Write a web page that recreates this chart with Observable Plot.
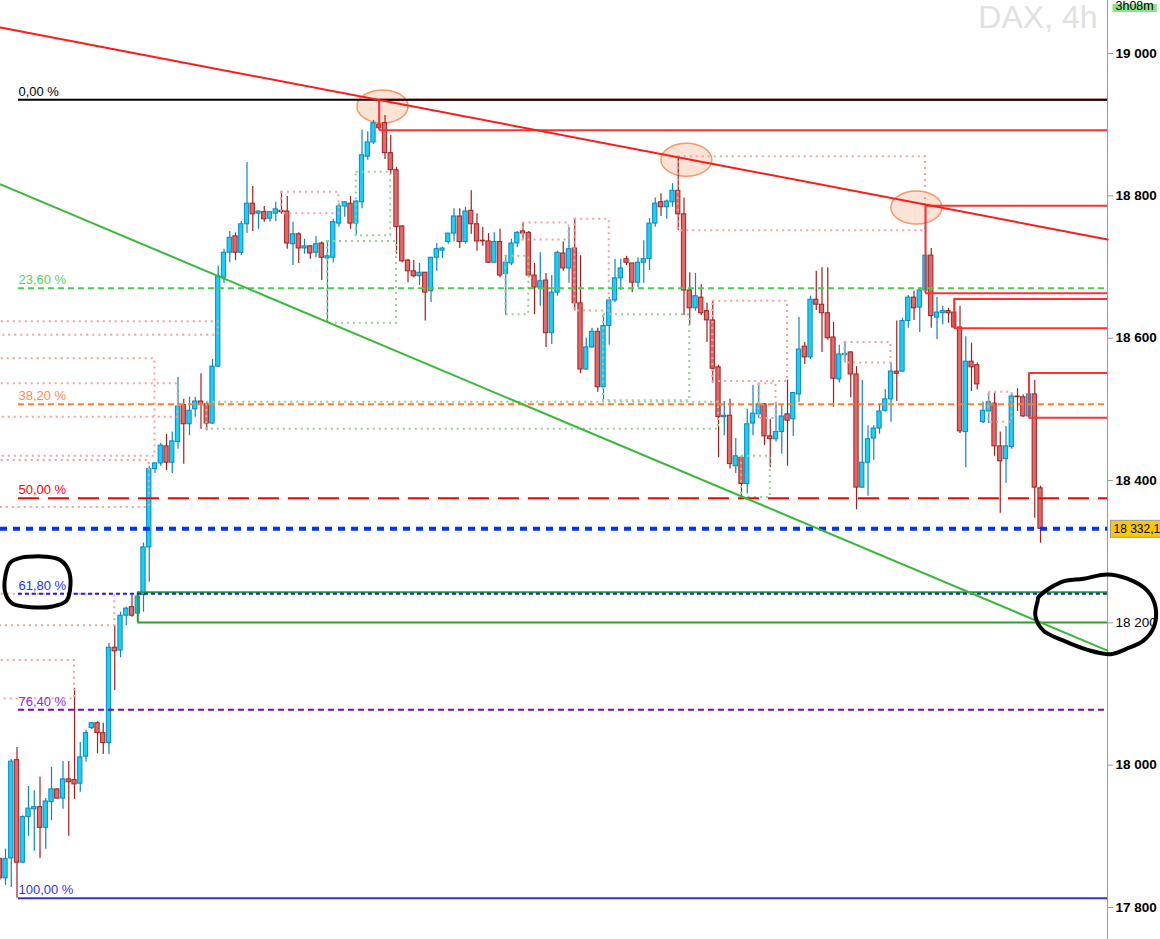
<!DOCTYPE html>
<html><head><meta charset="utf-8">
<script src="https://cdn.jsdelivr.net/npm/d3@7"></script>
<script src="https://cdn.jsdelivr.net/npm/@observablehq/plot@0.6"></script>
<style>
html,body{margin:0;padding:0;background:#fff;overflow:hidden;}
#chart svg{display:block;}
</style>
</head><body>
<div id="chart"></div>
<script>
// ---- candle data (DAX, 4h), index = bar number ----
const candleOpen = [17868,17841,17869,18007,17863,17927,17938,17941,17912,17948,
17966,17953,17980,17979,17974,18012,18052,18059,18045,18031,
18165,18161,18210,18222,18213,18239,18306,18416,18424,18448,
18425,18454,18506,18479,18500,18511,18507,18480,18560,18685,
18720,18743,18720,18760,18789,18775,18777,18768,18775,18779,
18778,18732,18746,18726,18729,18720,18733,18712,18713,18761,
18785,18789,18761,18791,18855,18875,18900,18902,18860,18836,
18757,18709,18694,18687,18692,18666,18713,18723,18735,18747,
18771,18735,18779,18760,18737,18736,18706,18735,18690,18705,
18733,18750,18748,18688,18671,18681,18607,18664,18719,18698,
18726,18649,18556,18587,18609,18531,18617,18653,18684,18711,
18705,18678,18706,18711,18761,18791,18784,18791,18807,18774,
18667,18642,18657,18638,18625,18559,18489,18491,18420,18432,
18395,18480,18493,18507,18462,18458,18468,18493,18486,18521,
18588,18573,18654,18647,18635,18601,18542,18576,18580,18549,
18390,18425,18459,18473,18498,18514,18553,18553,18624,18657,
18643,18667,18716,18629,18635,18638,18636,18615,18468,18567,
18562,18482,18497,18508,18448,18430,18447,18518,18517,18490,
18521,18389];
const candleHigh = [17870,17882,18008,18025,17929,17970,17964,17983,17953,17997,
17967,18005,18005,18108,18032,18049,18060,18061,18059,18171,
18196,18215,18222,18239,18243,18312,18420,18425,18452,18465,
18468,18545,18514,18517,18517,18550,18510,18570,18701,18725,
18750,18748,18764,18847,18813,18779,18785,18778,18791,18805,
18799,18763,18748,18739,18730,18743,18735,18736,18767,18789,
18792,18799,18793,18892,18890,18906,18935,18913,18885,18840,
18758,18711,18709,18705,18692,18713,18733,18728,18747,18782,
18782,18784,18807,18775,18756,18747,18748,18753,18715,18739,
18750,18761,18750,18705,18720,18691,18688,18722,18735,18756,
18767,18716,18600,18614,18614,18632,18657,18711,18711,18715,
18705,18713,18737,18768,18797,18803,18794,18817,18854,18797,
18692,18691,18675,18649,18652,18562,18511,18514,18459,18435,
18500,18534,18536,18508,18486,18510,18506,18541,18523,18629,
18594,18659,18694,18699,18699,18622,18590,18594,18581,18560,
18541,18477,18477,18508,18528,18565,18624,18628,18660,18666,
18671,18786,18726,18657,18645,18642,18655,18645,18602,18593,
18565,18510,18523,18523,18468,18476,18523,18529,18520,18551,
18541,18392];
const candleLow = [17838,17831,17828,17813,17862,17900,17879,17869,17882,17922,
17952,17938,17900,17952,17962,18004,18050,18016,18015,18015,
18105,18151,18196,18208,18201,18215,18257,18410,18420,18414,
18410,18444,18423,18463,18489,18472,18470,18479,18559,18677,
18706,18709,18716,18747,18750,18753,18763,18763,18764,18774,
18725,18702,18705,18718,18711,18713,18681,18621,18706,18756,
18770,18753,18744,18782,18850,18872,18892,18851,18830,18718,
18706,18678,18685,18674,18624,18650,18694,18712,18732,18735,
18726,18732,18746,18722,18729,18705,18706,18685,18632,18702,
18727,18739,18685,18633,18645,18587,18591,18659,18694,18677,
18638,18550,18555,18586,18524,18512,18590,18650,18667,18702,
18664,18671,18677,18695,18756,18771,18767,18784,18751,18632,
18618,18638,18632,18594,18537,18432,18463,18416,18410,18376,
18381,18463,18487,18449,18418,18454,18437,18420,18462,18510,
18563,18570,18639,18580,18597,18503,18537,18565,18516,18359,
18389,18378,18428,18465,18496,18482,18511,18552,18614,18625,
18608,18663,18614,18598,18619,18621,18614,18466,18418,18525,
18527,18480,18480,18434,18354,18396,18444,18497,18489,18488,
18347,18312];
const candleClose = [17841,17868,18005,17863,17927,17939,17941,17912,17949,17966,
17953,17980,17976,17973,18011,18045,18059,18045,18031,18165,
18160,18210,18220,18210,18237,18306,18416,18424,18449,18425,
18455,18504,18479,18498,18511,18506,18480,18560,18687,18720,
18741,18720,18760,18789,18774,18778,18767,18777,18781,18777,
18733,18746,18726,18729,18719,18732,18713,18715,18763,18785,
18791,18761,18792,18857,18875,18902,18895,18860,18836,18756,
18708,18694,18687,18692,18664,18713,18725,18726,18747,18771,
18735,18778,18760,18736,18736,18706,18735,18688,18706,18733,
18748,18747,18688,18671,18680,18607,18664,18720,18698,18725,
18649,18556,18587,18609,18531,18617,18653,18684,18698,18706,
18678,18706,18711,18761,18789,18784,18792,18807,18774,18667,
18642,18659,18635,18625,18557,18489,18491,18423,18434,18395,
18479,18494,18507,18462,18458,18468,18490,18484,18523,18584,
18573,18654,18647,18635,18600,18543,18577,18578,18549,18390,
18425,18458,18473,18497,18514,18553,18550,18624,18657,18642,
18667,18716,18631,18636,18638,18635,18615,18469,18567,18559,
18535,18498,18510,18448,18427,18448,18518,18517,18490,18521,
18390,18332.1];

// ---- Fibonacci retracement ----
const fibLabels = ["0,00 %","23,60 %","38,20 %","50,00 %","61,80 %","76,40 %","100,00 %"];
const fibLevels = [18935,18670,18507,18375,18241,18078,17813];
const fibStartBar = 3.25;

// ---- price scale / last price ----
const priceTicks = [17800,18000,18200,18400,18600,18800,19000];
const lastPrice = 18332.1;
const chartTitle = "DAX, 4h";
const timerText = "3h08m";

// ---- candle zones (from the bar's high to its low, extended right) ----
const resistanceBars = [66,161,166,179];
const resistanceHigh = [18935,18786,18655,18551];
const resistanceLow  = [18892,18663,18614,18488];
const supportBars = [24];
const supportHigh = [18243];
const supportLow  = [18200.5];

// ---- dotted zones (null start = begins before the visible window) ----
const pinkBoxStart  = [null,null,null,null,null,null,49,91,100,118,124,132,147,172];
const pinkBoxEnd    = [38,27,31,26,20,13,59,99,106,161,137,135,155,176];
const pinkBoxTop    = [18623,18571,18536,18428,18240,18147,18805,18762,18767,18855,18652,18536,18594,18524];
const pinkBoxBottom = [18604,18434,18489,18362,18196,18093,18775,18738,18638,18751,18539,18487,18565,18482];
const greenBoxStart  = [57,62,88,105,36,129];
const greenBoxEnd    = [69,68,92,120,125,134];
const greenBoxTop    = [18736,18833,18715,18633,18510,18434];
const greenBoxBottom = [18621,18744,18633,18512,18472,18376];

// ---- trend lines (bar, price) ----
const redTrend   = [[0.13,19036.5],[192.65,18738.7]];
const greenTrend = [[0.13,18816],[192.65,18161]];

// ---- highlighted peaks (bar, price) ----
const peakBars   = [66.65,119.5,159.5];
const peakPrices = [18925,18850,18783];

// ---- hand-drawn loops (bar, price) ----
const leftLoop = [[5.0,18293],[7.96,18293],[10.57,18288],[11.96,18274],[12.3,18253],[11.61,18231],[9.17,18223],[5.35,18222],[2.22,18227],[1.0,18241],[1.0,18267],[1.87,18285],[3.96,18292]];
const rightLoop = [[180.65,18236],[184.5,18257],[188.5,18262],[192.6,18268],[196.1,18262],[199.6,18245],[201.0,18222],[200.7,18194],[198.9,18175],[196.1,18164],[193.2,18156],[189.2,18162],[185.0,18175],[181.5,18189],[180.1,18210],[180.5,18231]];

// ================= drawing =================
const xMin = 0.13, xMax = 192.65;
const FONT = "'Liberation Sans', Arial, sans-serif";
const BLUE_FILL = "#19d0f6", BLUE_EDGE = "#0b86bd", RED_FILL = "#e36868", RED_EDGE = "#a31f1f";

const bars = candleOpen.map((o, i) => ({i, open: o, high: candleHigh[i], low: candleLow[i], close: candleClose[i], up: candleClose[i] >= o}));
const mkBoxes = (s, e, t, b) => s.map((v, k) => ({x1: v == null ? xMin - 3 : v, x2: e[k], y1: t[k], y2: b[k]}));
const pinkBoxes = mkBoxes(pinkBoxStart, pinkBoxEnd, pinkBoxTop, pinkBoxBottom);
const greenBoxes = mkBoxes(greenBoxStart, greenBoxEnd, greenBoxTop, greenBoxBottom);
const resZones = resistanceBars.map((b, k) => ({b, hi: resistanceHigh[k], lo: resistanceLow[k]}));
const supZones = supportBars.map((b, k) => ({b, hi: supportHigh[k], lo: supportLow[k]}));
const fib = fibLevels.map((v, k) => ({level: v, label: fibLabels[k], k}));

const fibStyle = [
  {stroke: "#000000", dash: null, text: "#000000"},
  {stroke: "#4ccb4c", dash: "6,4", text: "#5ad35a"},
  {stroke: "#ff7f3a", dash: "6,4", text: "#ff8a4a"},
  {stroke: "#ff0000", dash: "21,9", text: "#ff0000"},
  {stroke: "#1a1aff", dash: "4,3", text: "#2a2aff"},
  {stroke: "#7f00c8", dash: "6,4", text: "#8a2be2"},
  {stroke: "#3333dd", dash: null, text: "#3333dd"}
];

const fibMarks = fib.map(d => Plot.ruleY([d], {
  y: "level", x1: () => fibStartBar, x2: () => xMax,
  stroke: fibStyle[d.k].stroke, strokeWidth: 2,
  ...(fibStyle[d.k].dash ? {strokeDasharray: fibStyle[d.k].dash} : {})
}));

const zoneMarks = (zones, color) => [
  Plot.ruleX(zones, {x: "b", y1: "lo", y2: "hi", stroke: color, strokeWidth: 2}),
  Plot.ruleY(zones, {y: "hi", x1: "b", x2: () => xMax, stroke: color, strokeWidth: 2}),
  Plot.ruleY(zones, {y: "lo", x1: "b", x2: () => xMax, stroke: color, strokeWidth: 2})
];

const fmtTick = d => `${Math.floor(d / 1000)} ${String(d % 1000).padStart(3, "0")}`;
const fmtPrice = p => `${Math.floor(p / 1000)} ${(p % 1000).toFixed(1).replace(".", ",")}`;

const svg = Plot.plot({
  width: 1160, height: 939,
  marginLeft: 0, marginRight: 53, marginTop: 0, marginBottom: 0,
  style: {fontFamily: FONT, fontSize: "13.5px", background: "#ffffff", overflow: "visible"},
  x: {domain: [xMin, xMax], axis: null},
  y: {domain: [17800, 19000], range: [907, 53], axis: "right", ticks: priceTicks, tickFormat: fmtTick, tickSize: 5, tickPadding: 3, label: null},
  color: {type: "identity"},
  marks: [
    Plot.ruleX([xMax], {stroke: "#9a9a9a", strokeWidth: 1}),
    // candles
    Plot.ruleX(bars, {x: "i", y1: "low", y2: "high", stroke: d => d.up ? BLUE_EDGE : RED_EDGE, strokeWidth: 1.2}),
    Plot.rect(bars, {x1: d => d.i - 0.37, x2: d => d.i + 0.37, y1: "open", y2: "close",
      fill: d => d.up ? BLUE_FILL : RED_FILL, stroke: d => d.up ? BLUE_EDGE : RED_EDGE, strokeWidth: 1}),
    // dotted zones
    Plot.rect(pinkBoxes, {x1: "x1", x2: "x2", y1: "y1", y2: "y2", fill: "none", stroke: "#f5a0a0", strokeWidth: 2, strokeDasharray: "2,4"}),
    Plot.rect(greenBoxes, {x1: "x1", x2: "x2", y1: "y1", y2: "y2", fill: "none", stroke: "#93d293", strokeWidth: 2, strokeDasharray: "2,4"}),
    // candle zones
    ...zoneMarks(resZones, "#ff3030"),
    ...zoneMarks(supZones, "#2e9e2e"),
    // fibonacci
    ...fibMarks,
    // last price line
    Plot.ruleY([lastPrice], {stroke: "#0033ff", strokeWidth: 4, strokeDasharray: "7,6"}),
    // trend lines
    Plot.line(redTrend, {x: d => d[0], y: d => d[1], stroke: "#ff1a1a", strokeWidth: 2}),
    Plot.line(greenTrend, {x: d => d[0], y: d => d[1], stroke: "#38b838", strokeWidth: 2}),
    // fib labels
    Plot.text(fib, {x: () => fibStartBar, y: "level", text: "label", fill: d => fibStyle[d.k].text,
      textAnchor: "start", lineAnchor: "bottom", dy: -4, fontSize: 13}),
    // watermark / timer / price tag
    Plot.text([chartTitle], {frameAnchor: "top-right", dx: -10, dy: 27.5, textAnchor: "end", lineAnchor: "bottom", fontSize: 32, fill: "#e1e1e1"}),
    Plot.text([timerText], {frameAnchor: "top-right", dx: 8, dy: 9.5, textAnchor: "start", lineAnchor: "bottom", fontSize: 12.5, fill: "#000"}),
    Plot.text([lastPrice], {y: d => d, text: fmtPrice, frameAnchor: "right", dx: 6, textAnchor: "start", lineAnchor: "middle", fontSize: 12, fill: "#000"}),
    // hand-drawn loops
    Plot.line(leftLoop, {x: d => d[0], y: d => d[1], curve: "catmull-rom-closed", stroke: "#000", strokeWidth: 4, strokeLinejoin: "round"}),
    Plot.line(rightLoop, {x: d => d[0], y: d => d[1], curve: "catmull-rom-closed", stroke: "#000", strokeWidth: 4, strokeLinejoin: "round"})
  ]
});
document.getElementById("chart").append(svg);

// ---- post-processing with the plot's own scales ----
const xs = svg.scale("x"), ys = svg.scale("y");
const NS = "http://www.w3.org/2000/svg";
const eg = document.createElementNS(NS, "g");
eg.setAttribute("aria-label", "peaks");
peakBars.forEach((b, k) => {
  const e = document.createElementNS(NS, "ellipse");
  e.setAttribute("cx", xs.apply(b));
  e.setAttribute("cy", ys.apply(peakPrices[k]));
  e.setAttribute("rx", 25.5);
  e.setAttribute("ry", 16.5);
  e.setAttribute("fill", "#fcdccb");
  e.setAttribute("fill-opacity", 0.8);
  e.setAttribute("stroke", "#f49a66");
  e.setAttribute("stroke-width", 1.5);
  eg.appendChild(e);
});
const firstG = svg.querySelector("g");
svg.insertBefore(eg, firstG);

// boxes behind the last-price tag and the timer, sized from the text's own box
function textFrame(t) {
  const bb = t.getBBox();
  let tx = 0, ty = 0;
  const tr = t.transform && t.transform.baseVal && t.transform.baseVal.consolidate();
  if (tr) { tx = tr.matrix.e; ty = tr.matrix.f; }
  return {x: tx + bb.x, y: ty + bb.y, w: bb.width, h: bb.height, tx, ty};
}
function findText(str) {
  return [...svg.querySelectorAll("text")].find(el => el.textContent.trim() === str);
}
function addRect(t, x, y, w, h, fill, stroke) {
  const r = document.createElementNS(NS, "rect");
  r.setAttribute("x", x); r.setAttribute("y", y);
  r.setAttribute("width", w); r.setAttribute("height", h);
  r.setAttribute("fill", fill);
  if (stroke) { r.setAttribute("stroke", stroke); r.setAttribute("stroke-width", 1); }
  t.parentNode.insertBefore(r, t);
}
const tagText = findText(fmtPrice(lastPrice));
if (tagText) {
  const f = textFrame(tagText);
  const cy = ys.apply(lastPrice);
  const x0 = f.x - 3;
  addRect(tagText, x0, cy - 8.5, 1160 - x0, 17, "#fcc800", "#9a9a9a");
}
const timer = findText(timerText);
if (timer) {
  const f = textFrame(timer);
  addRect(timer, f.x - 3, -6, f.w + 6, f.ty + 2.2 + 6, "#8ee08e", null);
}

// axis labels: bold, ticks grey
svg.querySelectorAll("text").forEach(t => {
  const s = t.textContent.trim();
  if (/^\d\d \d{3}$/.test(s)) {
    t.setAttribute("font-weight", s === "18 200" ? "normal" : "bold");
    t.setAttribute("font-size", "13.5px");
    t.setAttribute("fill", "#000");
  }
});
svg.querySelectorAll('g[aria-label="y-axis tick"] path, g[aria-label="y-axis"] line').forEach(p => p.setAttribute("stroke", "#9a9a9a"));
</script>
</body></html>
